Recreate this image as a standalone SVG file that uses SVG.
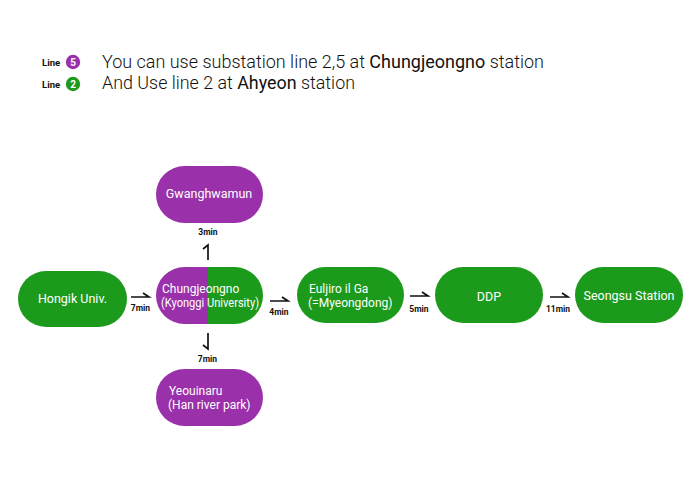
<svg xmlns="http://www.w3.org/2000/svg" width="700" height="500" viewBox="0 0 700 500">
  <style>
    .g { fill: #1c9a1c; }
    .p { fill: #9a31aa; }
    .nt { font-family: Roboto, "Liberation Sans", sans-serif; font-size: 12.5px; fill: #ffffff; }
    .nt2 { font-family: Roboto, "Liberation Sans", sans-serif; font-size: 12px; fill: #ffffff; }
    .lbl { font-family: Roboto, "Liberation Sans", sans-serif; font-size: 8.5px; font-weight: 700; fill: #111111; text-anchor: middle; }
    .arr { fill: none; stroke: #111111; stroke-width: 1.7; stroke-linecap: butt; stroke-linejoin: miter; }
    .hd { font-family: Roboto, "Liberation Sans", sans-serif; font-size: 17.5px; font-weight: 300; fill: #111111; }
    .hdb { font-weight: 400; }
    .ln { font-family: Roboto, "Liberation Sans", sans-serif; font-size: 9.5px; font-weight: 700; fill: #111111; }
    .cn { font-family: Roboto, "Liberation Sans", sans-serif; font-size: 10px; font-weight: 700; fill: #ffffff; text-anchor: middle; }
  </style>
  <defs>
    <clipPath id="cjClip">
      <rect x="156" y="267" width="107" height="57" rx="28.5" ry="28.5"/>
    </clipPath>
  </defs>
  <rect x="0" y="0" width="700" height="500" fill="#ffffff"/>

  <g id="legend">
    <text class="ln" x="42" y="66">Line</text>
    <circle class="p" cx="73" cy="62" r="7.2"/>
    <text class="cn" x="73" y="65.5">5</text>
    <text class="ln" x="42" y="88">Line</text>
    <circle class="g" cx="73" cy="84" r="7.2"/>
    <text class="cn" x="73" y="87.5">2</text>
    <text class="hd" x="102" y="68" textLength="442" lengthAdjust="spacingAndGlyphs">You can use substation line 2,5 at <tspan class="hdb">Chungjeongno</tspan> station</text>
    <text class="hd" x="102" y="89" textLength="253" lengthAdjust="spacingAndGlyphs">And Use line 2 at <tspan class="hdb">Ahyeon</tspan> station</text>
  </g>

  <g id="hongik">
    <rect class="g" x="18" y="271" width="109" height="56" rx="28" ry="28"/>
    <text class="nt" x="72.5" y="303" text-anchor="middle">Hongik Univ.</text>
  </g>

  <g id="gwanghwamun">
    <rect class="p" x="156" y="166" width="107" height="57" rx="28.5" ry="28.5"/>
    <text class="nt" x="209" y="197.5" text-anchor="middle">Gwanghwamun</text>
  </g>

  <g id="chungjeongno">
    <g clip-path="url(#cjClip)">
      <rect class="p" x="156" y="267" width="52" height="57"/>
      <rect class="g" x="208" y="267" width="55" height="57"/>
    </g>
    <text class="nt2" x="162" y="292.5">Chungjeongno</text>
    <text class="nt2" x="161" y="306.5" textLength="98" lengthAdjust="spacingAndGlyphs">(Kyonggi University)</text>
  </g>

  <g id="yeouinaru">
    <rect class="p" x="156" y="369" width="107" height="57" rx="28.5" ry="28.5"/>
    <text class="nt2" x="169" y="394.5">Yeouinaru</text>
    <text class="nt2" x="168" y="409">(Han river park)</text>
  </g>

  <g id="euljiro">
    <rect class="g" x="297" y="267" width="107" height="56" rx="28" ry="28"/>
    <text class="nt2" x="309" y="292.5">Euljiro il Ga</text>
    <text class="nt2" x="308" y="307">(=Myeongdong)</text>
  </g>

  <g id="ddp">
    <rect class="g" x="435" y="267" width="108" height="56" rx="28" ry="28"/>
    <text class="nt" x="489" y="301" text-anchor="middle">DDP</text>
  </g>

  <g id="seongsu">
    <rect class="g" x="575" y="267" width="108" height="56" rx="28" ry="28"/>
    <text class="nt" x="629" y="300" text-anchor="middle">Seongsu Station</text>
  </g>

  <g id="connectors">
    <path class="arr" d="M131,297 H149 L143,293"/>
    <text class="lbl" x="140.5" y="311">7min</text>

    <path class="arr" d="M270,301 H288 L282,297"/>
    <text class="lbl" x="279" y="314.5">4min</text>

    <path class="arr" d="M410,296 H428 L422,292"/>
    <text class="lbl" x="419" y="311.5">5min</text>

    <path class="arr" d="M550,297 H568 L562,293"/>
    <text class="lbl" x="558" y="311.5">11min</text>

    <path class="arr" d="M208,260 V245 L203,249"/>
    <text class="lbl" x="208" y="235">3min</text>

    <path class="arr" d="M208,333 V349 L203,345"/>
    <text class="lbl" x="207.5" y="362">7min</text>
  </g>
</svg>
